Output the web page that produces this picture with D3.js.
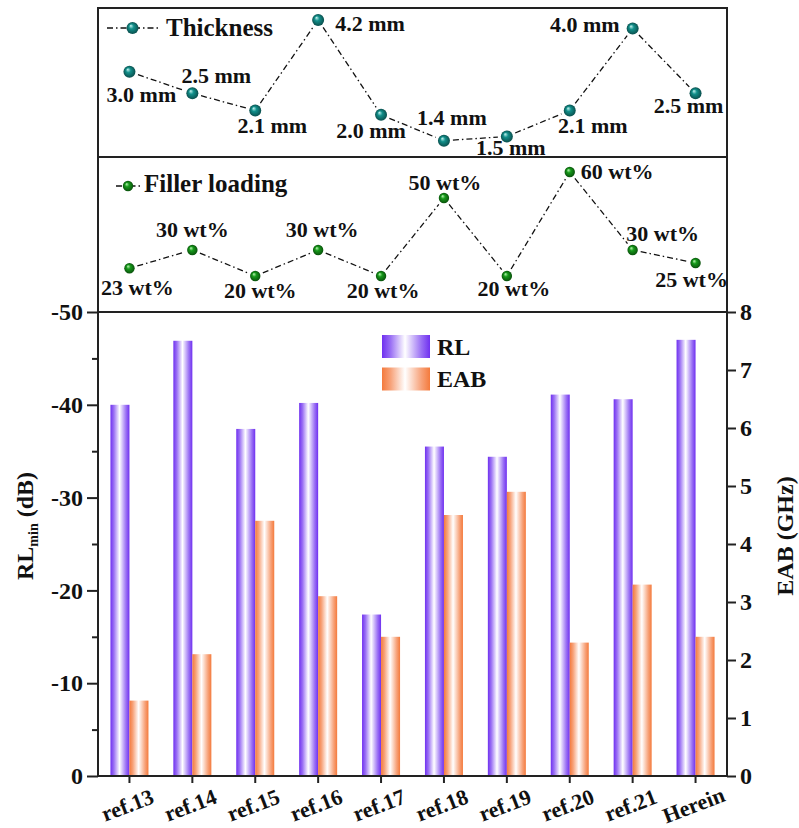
<!DOCTYPE html>
<html>
<head>
<meta charset="utf-8">
<script src="https://cdn.jsdelivr.net/npm/d3@7/dist/d3.min.js"></script>
<style>
  html, body { margin: 0; padding: 0; background: #fff; }
  svg text { font-family: "Liberation Serif", "Times New Roman", serif; font-weight: bold; fill: #111; }
</style>
</head>
<body>
<svg id="chart" width="799" height="828"></svg>
<script>
const categories = ['ref.13', 'ref.14', 'ref.15', 'ref.16', 'ref.17', 'ref.18', 'ref.19', 'ref.20', 'ref.21', 'Herein'];
const rlValues = [-40.0, -46.9, -37.4, -40.2, -17.4, -35.5, -34.4, -41.1, -40.6, -47.0];
const eabValues = [1.3, 2.1, 4.4, 3.1, 2.4, 4.5, 4.9, 2.3, 3.3, 2.4];
const thickness = [3.0, 2.5, 2.1, 4.2, 2.0, 1.4, 1.5, 2.1, 4.0, 2.5];
const filler = [23, 30, 20, 30, 20, 50, 20, 60, 30, 25];
const rlTicks = [-50, -40, -30, -20, -10, 0];
const rlMinor = [-45, -35, -25, -15, -5];
const eabTicks = [0, 1, 2, 3, 4, 5, 6, 7, 8];

// label placement relative to each point [dx, dy, anchor]
const thickLabelPos = [[12, 30, 'middle'], [24, -10, 'middle'], [17, 22, 'middle'], [17, 11, 'start'], [-10, 23, 'middle'],
  [8, -16, 'middle'], [4, 19, 'middle'], [23, 22, 'middle'], [-13, 3, 'end'], [-7, 20, 'middle']];
const fillerLabelPos = [[8, 27, 'middle'], [0, -13, 'middle'], [5, 22, 'middle'], [4, -13, 'middle'], [2, 22, 'middle'],
  [1, -8, 'middle'], [7, 20, 'middle'], [11, 7, 'start'], [30, -9, 'middle'], [-4, 24, 'middle']];

const left = 98, right = 727;
const p1 = { top: 8, bottom: 157 };
const p2 = { top: 157, bottom: 312 };
const p3 = { top: 312, bottom: 776 };

const svg = d3.select('#chart');
const defs = svg.append('defs');

function barGradient(id, edge, soft) {
  const g = defs.append('linearGradient').attr('id', id)
    .attr('x1', '0%').attr('x2', '100%').attr('y1', '0%').attr('y2', '0%');
  g.append('stop').attr('offset', '0%').attr('stop-color', edge);
  g.append('stop').attr('offset', '18%').attr('stop-color', soft);
  g.append('stop').attr('offset', '48%').attr('stop-color', '#ffffff');
  g.append('stop').attr('offset', '82%').attr('stop-color', soft);
  g.append('stop').attr('offset', '100%').attr('stop-color', edge);
}
barGradient('gradRL', '#6f30f0', '#9a70f4');
barGradient('gradEAB', '#f47a3c', '#f7a279');

function ballGradient(id, light, mid, dark) {
  const g = defs.append('radialGradient').attr('id', id)
    .attr('cx', '50%').attr('cy', '50%').attr('r', '50%').attr('fx', '35%').attr('fy', '30%');
  g.append('stop').attr('offset', '0%').attr('stop-color', light);
  g.append('stop').attr('offset', '40%').attr('stop-color', mid);
  g.append('stop').attr('offset', '100%').attr('stop-color', dark);
}
ballGradient('ballTeal', '#c8f5f2', '#12908b', '#0a4f4d');
ballGradient('ballGreen', '#c0f7b8', '#169a1a', '#0a520c');

const x = d3.scaleBand().domain(categories).range([left, right]).padding(0);
const cx = d => x(d) + x.bandwidth() / 2;
const yRL = d3.scaleLinear().domain([0, -50]).range([p3.bottom, p3.top]);
const yEAB = d3.scaleLinear().domain([0, 8]).range([p3.bottom, p3.top]);
const yThick = d3.scaleLinear().domain([1, 4.5]).range([158, 7]);
const yFill = d3.scaleLinear().domain([20, 60]).range([276, 172]);

const barW = 19;

// bars
svg.append('g').selectAll('rect').data(categories).enter().append('rect')
  .attr('x', d => cx(d) - barW)
  .attr('y', (d, i) => yRL(rlValues[i]))
  .attr('width', barW)
  .attr('height', (d, i) => yRL(0) - yRL(rlValues[i]))
  .attr('fill', 'url(#gradRL)');

svg.append('g').selectAll('rect').data(categories).enter().append('rect')
  .attr('x', d => cx(d))
  .attr('y', (d, i) => yEAB(eabValues[i]))
  .attr('width', barW)
  .attr('height', (d, i) => yEAB(0) - yEAB(eabValues[i]))
  .attr('fill', 'url(#gradEAB)');

// frames
[p1, p2, p3].forEach(p => {
  svg.append('rect')
    .attr('x', left).attr('y', p.top)
    .attr('width', right - left).attr('height', p.bottom - p.top)
    .attr('fill', 'none').attr('stroke', '#222').attr('stroke-width', 2);
});

// axes
function styleAxis(g, size) {
  g.selectAll('.domain').remove();
  g.selectAll('line').attr('stroke', '#222').attr('stroke-width', 2);
  g.selectAll('text').style('font-size', size + 'px').attr('fill', '#111');
}

svg.append('g').attr('transform', `translate(${left},0)`)
  .call(d3.axisLeft(yRL).tickValues(rlTicks).tickSize(11).tickPadding(4).tickFormat(d => String(d)))
  .call(g => styleAxis(g, 24));
svg.append('g').attr('transform', `translate(${left},0)`)
  .call(d3.axisLeft(yRL).tickValues(rlMinor).tickSize(6).tickFormat(''))
  .call(g => styleAxis(g, 24));
svg.append('g').attr('transform', `translate(${right},0)`)
  .call(d3.axisRight(yEAB).tickValues(eabTicks).tickSize(9).tickPadding(4).tickFormat(d => String(d)))
  .call(g => styleAxis(g, 24));

svg.append('g').attr('transform', `translate(0,${p3.bottom})`)
  .call(d3.axisBottom(x).tickSize(7).tickFormat(''))
  .call(g => styleAxis(g, 22));

svg.append('g').selectAll('text').data(categories).enter().append('text')
  .attr('transform', d => `translate(${cx(d) - 2},${p3.bottom + 29}) rotate(-21)`)
  .attr('text-anchor', 'middle')
  .attr('dy', '0.35em')
  .style('font-size', '22px')
  .text(d => d);

// axis titles
const tL = svg.append('text')
  .attr('transform', 'translate(33,526) rotate(-90)')
  .attr('text-anchor', 'middle')
  .style('font-size', '24px');
tL.append('tspan').text('RL');
tL.append('tspan').attr('dy', '5').style('font-size', '14px').text('min');
tL.append('tspan').attr('dy', '-5').text(' (dB)');

svg.append('text')
  .attr('transform', 'translate(793,536) rotate(-90)')
  .attr('text-anchor', 'middle')
  .style('font-size', '24px')
  .text('EAB (GHz)');

// bar legend
const legend = [['RL', 'url(#gradRL)'], ['EAB', 'url(#gradEAB)']];
legend.forEach((l, i) => {
  svg.append('rect').attr('x', 382).attr('y', 335 + i * 32.5).attr('width', 48).attr('height', 23).attr('fill', l[1]);
  svg.append('text').attr('x', 437).attr('y', 355 + i * 32).style('font-size', '24px').text(l[0]);
});

// dash-dot line panels
function linePanel(values, yScale, ball, r, labels, unit, labelPos) {
  const pts = categories.map((c, i) => [cx(c), yScale(values[i])]);
  const gap = r + 3;
  const g = svg.append('g');
  for (let i = 0; i < pts.length - 1; i++) {
    const [x1, y1] = pts[i], [x2, y2] = pts[i + 1];
    const len = Math.hypot(x2 - x1, y2 - y1);
    const ux = (x2 - x1) / len, uy = (y2 - y1) / len;
    g.append('line')
      .attr('x1', x1 + ux * gap).attr('y1', y1 + uy * gap)
      .attr('x2', x2 - ux * gap).attr('y2', y2 - uy * gap)
      .attr('stroke', '#111').attr('stroke-width', 1.3)
      .attr('stroke-dasharray', '6,3,1.5,3');
  }
  g.selectAll('circle').data(pts).enter().append('circle')
    .attr('cx', d => d[0]).attr('cy', d => d[1]).attr('r', r)
    .attr('fill', `url(#${ball})`);
  g.selectAll('text').data(values).enter().append('text')
    .attr('x', (d, i) => pts[i][0] + labelPos[i][0])
    .attr('y', (d, i) => pts[i][1] + labelPos[i][1])
    .attr('text-anchor', (d, i) => labelPos[i][2])
    .style('font-size', '22px')
    .text(d => labels(d) + unit);
}

linePanel(thickness, yThick, 'ballTeal', 6, d => d.toFixed(1), ' mm', thickLabelPos);
linePanel(filler, yFill, 'ballGreen', 5.2, d => String(d), ' wt%', fillerLabelPos);

// line legends
function lineLegend(x1, x2, y, ball, r, tx, ty, label) {
  svg.append('line').attr('x1', x1).attr('x2', x2).attr('y1', y).attr('y2', y)
    .attr('stroke', '#111').attr('stroke-width', 1.3).attr('stroke-dasharray', '6,3,1.5,3');
  svg.append('circle').attr('cx', (x1 + x2) / 2).attr('cy', y).attr('r', r).attr('fill', `url(#${ball})`);
  svg.append('text').attr('x', tx).attr('y', ty).style('font-size', '25px').text(label);
}
lineLegend(107, 158, 28, 'ballTeal', 6, 166, 36, 'Thickness');
lineLegend(116, 140, 186, 'ballGreen', 5.2, 144, 192, 'Filler loading');
</script>
</body>
</html>
